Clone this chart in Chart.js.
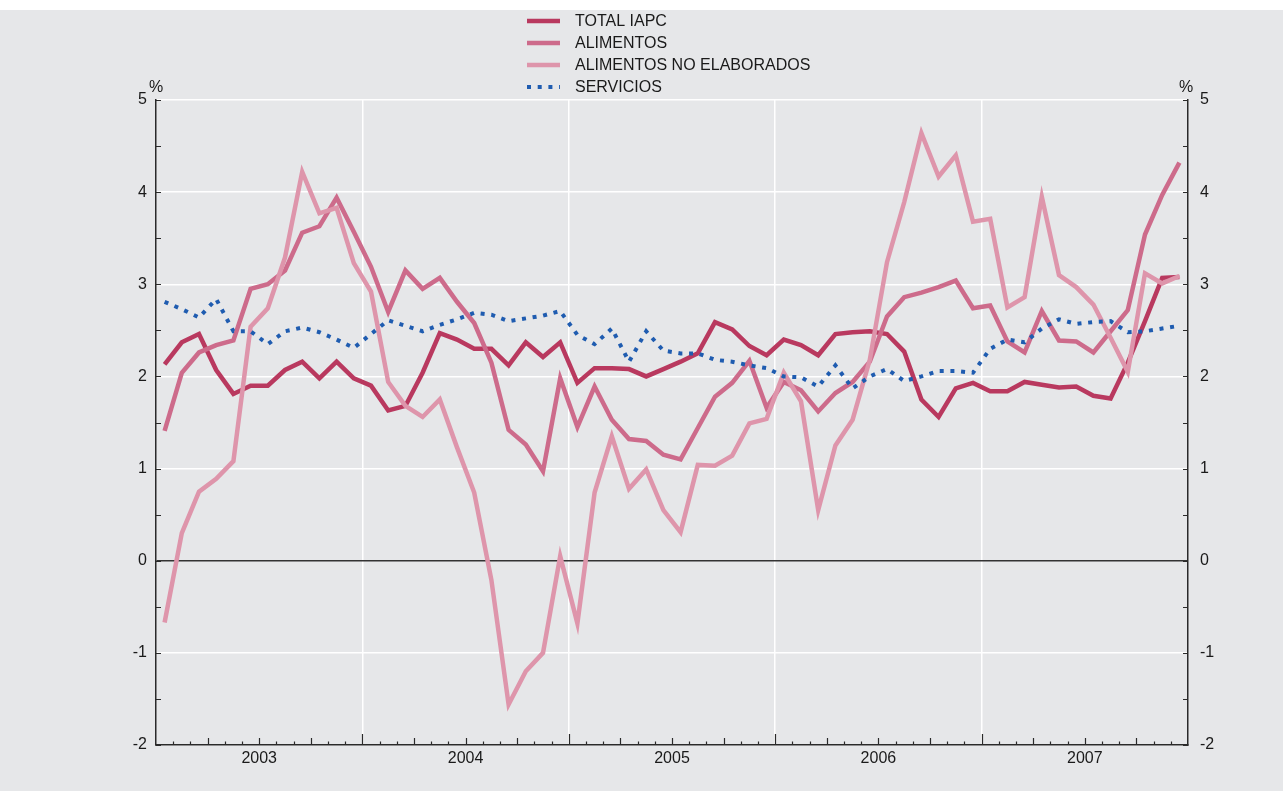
<!DOCTYPE html>
<html>
<head>
<meta charset="utf-8">
<script src="https://cdn.jsdelivr.net/npm/chart.js@4.4.0/dist/chart.umd.min.js"></script>
<style>
  html, body { margin: 0; padding: 0; background: #fff; }
  #wrap { width: 1283px; height: 796px; }
</style>
</head>
<body>
<div id="wrap"><canvas id="iapcChart" width="1283" height="796"></canvas></div>
<script>
// monthly data, January 2003 - December 2007 (%)
const years = ['2003', '2004', '2005', '2006', '2007'];

const totalIapc = [
  2.13, 2.37, 2.46, 2.07, 1.81, 1.90, 1.90, 2.07, 2.16, 1.98, 2.16, 1.98,
  1.90, 1.63, 1.68, 2.04, 2.47, 2.40, 2.30, 2.30, 2.12, 2.37, 2.21, 2.37,
  1.93, 2.09, 2.09, 2.08, 2.00, 2.08, 2.16, 2.25, 2.59, 2.51, 2.33, 2.23,
  2.40, 2.34, 2.23, 2.46, 2.48, 2.49, 2.46, 2.27, 1.75, 1.56, 1.87, 1.93,
  1.84, 1.84, 1.94, 1.91, 1.88, 1.89, 1.79, 1.76, 2.15, 2.60, 3.07, 3.08
];
const alimentos = [
  1.41, 2.04, 2.26, 2.34, 2.39, 2.95, 3.00, 3.15, 3.56, 3.63, 3.94, 3.57,
  3.19, 2.70, 3.15, 2.95, 3.07, 2.81, 2.58, 2.15, 1.42, 1.26, 0.97, 1.98,
  1.45, 1.89, 1.53, 1.32, 1.30, 1.15, 1.10, 1.44, 1.78, 1.93, 2.17, 1.66,
  1.94, 1.85, 1.62, 1.82, 1.94, 2.16, 2.65, 2.86, 2.91, 2.97, 3.04, 2.74,
  2.77, 2.38, 2.26, 2.71, 2.39, 2.38, 2.26, 2.49, 2.72, 3.54, 3.97, 4.32
];
const alimentosNoElab = [
  -0.67, 0.30, 0.75, 0.89, 1.08, 2.54, 2.74, 3.29, 4.22, 3.77, 3.83, 3.23,
  2.92, 1.94, 1.68, 1.56, 1.75, 1.23, 0.74, -0.21, -1.56, -1.20, -1.00, 0.05,
  -0.68, 0.74, 1.35, 0.78, 0.99, 0.55, 0.31, 1.04, 1.03, 1.14, 1.49, 1.54,
  2.04, 1.73, 0.55, 1.25, 1.53, 2.18, 3.24, 3.89, 4.64, 4.17, 4.40, 3.68,
  3.71, 2.75, 2.86, 3.95, 3.10, 2.97, 2.78, 2.42, 2.05, 3.12, 3.01, 3.09
];
const servicios = [
  2.81, 2.73, 2.64, 2.84, 2.49, 2.49, 2.35, 2.49, 2.53, 2.48, 2.40, 2.31,
  2.46, 2.61, 2.55, 2.49, 2.56, 2.62, 2.69, 2.67, 2.60, 2.63, 2.66, 2.71,
  2.45, 2.35, 2.52, 2.16, 2.49, 2.28, 2.25, 2.25, 2.18, 2.16, 2.12, 2.09,
  2.00, 1.99, 1.89, 2.12, 1.87, 2.00, 2.08, 1.95, 2.00, 2.06, 2.06, 2.04,
  2.30, 2.40, 2.37, 2.52, 2.62, 2.57, 2.59, 2.60, 2.48, 2.49, 2.52, 2.55
];

// each month sits in the middle of its slot on the time axis
function toPoints(arr) {
  return arr.map((v, i) => ({ x: i + 0.5, y: v }));
}

Chart.defaults.font.family = "'Liberation Sans', Arial, Helvetica, sans-serif";
Chart.defaults.font.size = 16;
Chart.defaults.color = '#1a1a1a';

const AXIS_COLOR = '#2a2a2a';

// background, custom legend, inward tick marks and "%" labels
const chartDecor = {
  id: 'chartDecor',
  beforeDraw(chart) {
    const c = chart.ctx;
    c.save();
    c.fillStyle = '#e6e7e9';
    c.fillRect(0, 10, chart.width, 781);
    c.restore();
  },
  afterDraw(chart) {
    const c = chart.ctx;
    const area = chart.chartArea;
    const xs = chart.scales.x;
    const ys = chart.scales.y;

    c.save();
    c.strokeStyle = AXIS_COLOR;
    c.lineWidth = 1.2;
    c.beginPath();
    for (let m = 1; m < 60; m++) {
      const px = Math.round(xs.getPixelForValue(m)) + 0.5;
      const len = m % 12 === 0 ? 11 : (m % 3 === 0 ? 7 : 3.5);
      c.moveTo(px, area.bottom);
      c.lineTo(px, area.bottom - len);
    }
    for (let v = -2; v <= 5; v += 0.5) {
      const py = Math.round(ys.getPixelForValue(v)) + 0.5;
      c.moveTo(area.left, py);
      c.lineTo(area.left + 5, py);
      c.moveTo(area.right, py);
      c.lineTo(area.right - 5, py);
    }
    c.stroke();

    // "%" units over both axes
    c.fillStyle = '#1a1a1a';
    c.font = "16px 'Liberation Sans', Arial, sans-serif";
    c.textAlign = 'center';
    c.textBaseline = 'middle';
    c.fillText('%', area.left, 88);
    c.fillText('%', area.right - 2, 88);

    // legend, one entry per row
    c.textAlign = 'left';
    chart.data.datasets.forEach((ds, i) => {
      const y = 21 + i * 22;
      c.strokeStyle = ds.borderColor;
      c.lineWidth = ds.borderWidth;
      c.setLineDash(ds.borderDash || []);
      c.lineCap = 'butt';
      c.beginPath();
      c.moveTo(527, y);
      c.lineTo(560, y);
      c.stroke();
      c.setLineDash([]);
      c.fillText(ds.label, 575, y + 1);
    });
    c.restore();
  }
};

new Chart(document.getElementById('iapcChart').getContext('2d'), {
  type: 'line',
  data: {
    datasets: [
      {
        label: 'TOTAL IAPC',
        data: toPoints(totalIapc),
        borderColor: '#b9395f',
        borderWidth: 4.5,
        order: 4
      },
      {
        label: 'ALIMENTOS',
        data: toPoints(alimentos),
        borderColor: '#cd6b8b',
        borderWidth: 4.5,
        order: 3
      },
      {
        label: 'ALIMENTOS NO ELABORADOS',
        data: toPoints(alimentosNoElab),
        borderColor: '#de95ab',
        borderWidth: 4.5,
        order: 2
      },
      {
        label: 'SERVICIOS',
        data: toPoints(servicios),
        borderColor: '#1f5cb0',
        borderWidth: 4,
        borderDash: [4, 6.7],
        order: 1
      }
    ]
  },
  options: {
    responsive: false,
    animation: false,
    devicePixelRatio: 1,
    layout: { padding: { top: 100, left: 0, right: 0, bottom: 0 } },
    elements: {
      point: { radius: 0, hoverRadius: 0 },
      line: { tension: 0, borderJoinStyle: 'miter', borderCapStyle: 'butt', fill: false }
    },
    plugins: {
      legend: { display: false },
      tooltip: { enabled: false }
    },
    scales: {
      x: {
        type: 'linear',
        min: 0,
        max: 60,
        afterBuildTicks: (scale) => {
          const t = [];
          for (let v = 0; v <= 60; v += 6) t.push({ value: v });
          scale.ticks = t;
        },
        afterFit: (scale) => { scale.height = 51; },
        ticks: {
          autoSkip: false,
          maxRotation: 0,
          padding: 4,
          callback: (v) => ((v - 6) % 12 === 0 ? years[(v - 6) / 12] : '')
        },
        grid: {
          drawTicks: false,
          lineWidth: 1.5,
          color: (ctx) => {
            const v = ctx.tick ? ctx.tick.value : -1;
            return (v % 12 === 0 && v > 0 && v < 60) ? '#ffffff' : 'rgba(0,0,0,0)';
          }
        },
        border: { display: true, color: AXIS_COLOR, width: 1.5 }
      },
      y: {
        position: 'left',
        min: -2,
        max: 5,
        afterFit: (scale) => { scale.width = 156; },
        ticks: {
          stepSize: 0.5,
          padding: 9,
          callback: (v) => (Number.isInteger(v) ? String(v) : '')
        },
        grid: {
          drawTicks: false,
          lineWidth: 1.5,
          color: (ctx) => {
            const v = ctx.tick ? ctx.tick.value : 0.5;
            if (v === 0) return '#333333';
            return Number.isInteger(v) ? '#ffffff' : 'rgba(0,0,0,0)';
          }
        },
        border: { display: true, color: AXIS_COLOR, width: 1.5 }
      },
      y2: {
        position: 'right',
        min: -2,
        max: 5,
        afterFit: (scale) => { scale.width = 95; },
        ticks: {
          stepSize: 0.5,
          padding: 12,
          callback: (v) => (Number.isInteger(v) ? String(v) : '')
        },
        grid: { display: false, drawTicks: false },
        border: { display: true, color: AXIS_COLOR, width: 1.5 }
      }
    }
  },
  plugins: [chartDecor]
});
</script>
</body>
</html>
